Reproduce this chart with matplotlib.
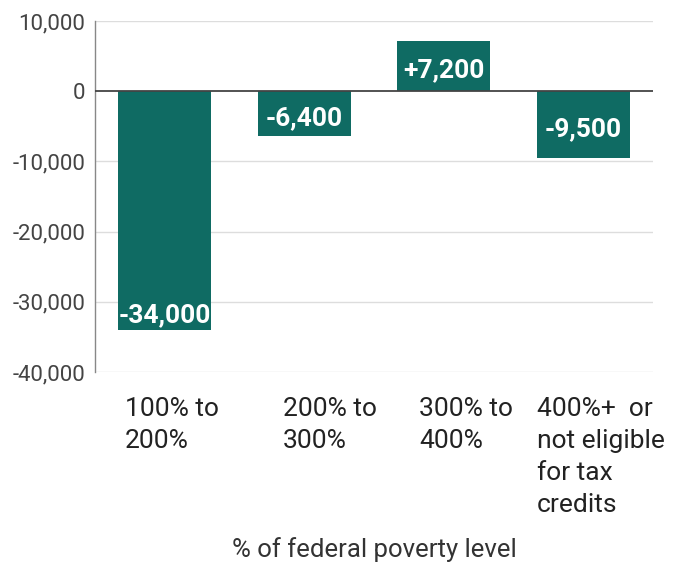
import matplotlib
matplotlib.use("Agg")
import matplotlib.pyplot as plt
from matplotlib.transforms import blended_transform_factory

categories = ["100% to\n200%", "200% to\n300%", "300% to\n400%",
              "400%+  or\nnot eligible\nfor tax\ncredits"]
values = [-34000, -6400, 7200, -9500]
bar_labels = ["-34,000", "-6,400", "+7,200", "-9,500"]
yticks = [10000, 0, -10000, -20000, -30000, -40000]
ytick_labels = ["10,000", "0", "-10,000", "-20,000", "-30,000", "-40,000"]
xlabel = "% of federal poverty level"

plt.rcParams['font.family'] = ['Roboto', 'DejaVu Sans']

W, H = 674, 567
fig = plt.figure(figsize=(W / 100, H / 100), dpi=100)
ax = fig.add_axes([95 / W, 1 - 372 / H, (653 - 95) / W, (372 - 21) / H])

color = '#0F6B63'
x = list(range(len(values)))
ax.bar(x, values, width=0.67, color=color, zorder=3)

ax.set_xlim(-0.5, len(values) - 0.5)
ax.set_ylim(-40000, 10000)
ax.set_yticks(yticks)
ax.set_yticklabels(ytick_labels, fontsize=16, color='#444444')
ax.tick_params(axis='y', length=0, pad=7)
ax.set_xticks([])

for y in yticks:
    if y == 0:
        ax.axhline(0, color='#444444', lw=1.3, zorder=4)
    else:
        ax.axhline(y, color='#dddddd', lw=1.0, zorder=1)

for s in ['top', 'right', 'bottom']:
    ax.spines[s].set_visible(False)
ax.spines['left'].set_color('#888888')
ax.spines['left'].set_linewidth(1.0)

# bar value labels
for xi, v, lab in zip(x, values, bar_labels):
    if abs(v) > 15000:
        ypos = v + 2150 if v < 0 else v - 2150
    else:
        ypos = v / 2 - 600
    ax.text(xi, ypos, lab, ha='center', va='center', color='white',
            fontsize=19, fontweight='bold', zorder=5)

# category labels (left aligned blocks below the axis)
offsets = [-0.285, -0.155, -0.175, -0.33]
trans = blended_transform_factory(ax.transData, fig.transFigure)
for xi, cat, off in zip(x, categories, offsets):
    fig.text(xi + off, 1 - 397 / H, cat, transform=trans, ha='left', va='top',
             fontsize=19, color='#222222', linespacing=1.42)

fig.text((95 + 653) / 2 / W, 1 - 550 / H, xlabel, ha='center', va='center',
         fontsize=18.5, color='#333333')

fig.savefig('out.png', dpi=100)
